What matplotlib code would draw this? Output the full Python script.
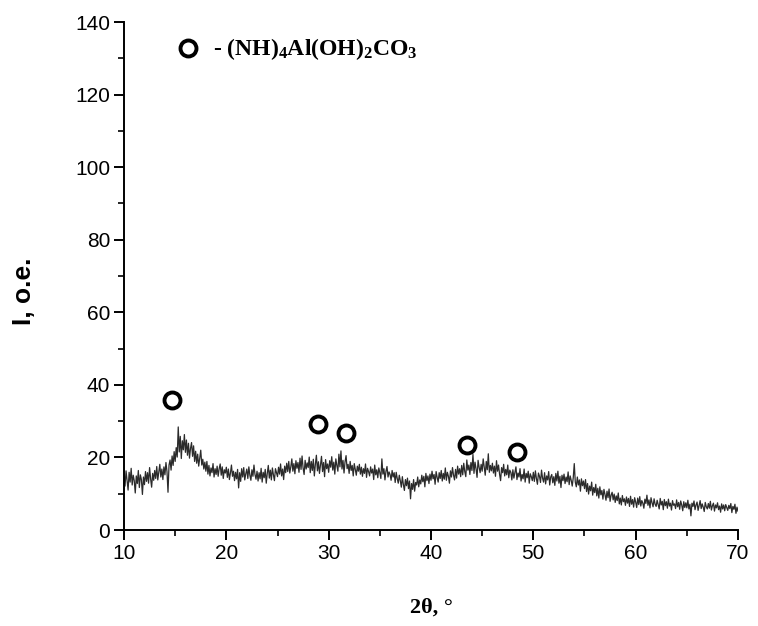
import numpy as np
import matplotlib
matplotlib.use('agg')
import matplotlib.pyplot as plt
from matplotlib.ticker import MultipleLocator

# diffractogram, intensity every 0.1 deg from 10 to 70 deg 2theta
intensity = [
    14.8, 12.1, 16.3, 13.5, 11.0, 15.9, 13.2, 17.0, 12.4, 15.1,
    13.6, 10.2, 14.9, 12.8, 16.4, 11.7, 15.2, 13.9, 9.8, 14.6,
    12.5, 16.1, 13.4, 15.8, 12.9, 17.2, 14.1, 11.8, 15.6, 13.7,
    16.4, 14.2, 17.5, 13.8, 15.9, 18.1, 14.6, 16.8, 13.9, 17.4,
    15.2, 18.6, 16.1, 10.4, 17.9, 19.3, 16.5, 20.4, 17.8, 21.6,
    18.9, 22.7, 20.1, 28.4, 21.5, 25.8, 19.7, 24.6, 22.1, 26.3,
    21.4, 24.8, 20.6, 23.9, 19.8, 22.5, 24.1, 20.3, 23.2, 18.9,
    21.7, 18.4, 20.9, 17.6, 19.8, 22.0, 17.9, 19.5, 16.8, 18.7,
    16.2, 18.9, 15.4, 17.8, 14.9, 17.1, 15.8, 18.3, 14.6, 16.9,
    15.3, 17.6, 14.8, 16.9, 18.2, 15.1, 17.4, 14.2, 16.6, 15.7,
    17.3, 14.5, 16.8, 13.9, 15.7, 17.9, 14.8, 16.2, 13.6, 15.9,
    14.1, 16.7, 11.6, 15.8, 13.4, 16.9, 14.6, 17.2, 13.8, 15.5,
    16.8, 14.2, 17.4, 15.1, 13.7, 16.6, 14.8, 17.9, 15.3, 14.0,
    16.2, 13.5, 15.8, 14.1, 17.0, 13.2, 15.9, 14.4, 16.7, 12.9,
    15.6, 17.8, 14.3, 16.5, 13.8, 17.1, 15.2, 13.6, 16.9, 15.8,
    14.7, 17.3, 15.4, 18.2, 14.9, 16.8, 13.9, 17.6, 15.8, 18.4,
    16.1, 18.9, 15.7, 17.4, 19.6, 16.2, 18.3, 15.5, 19.1, 17.0,
    18.6, 15.9, 19.8, 16.7, 20.4, 17.1, 15.3, 19.2, 16.8, 18.5,
    17.2, 20.1, 15.8, 18.9, 16.4, 19.5, 14.9, 18.1, 20.6, 16.3,
    18.8, 15.6, 17.9, 20.3, 16.1, 18.6, 14.7, 19.4, 16.9, 18.2,
    15.9, 19.1, 17.3, 20.2, 16.5, 18.7, 15.4, 19.6, 17.8, 16.2,
    20.9, 17.4, 21.8, 16.8, 19.2, 15.7, 18.8, 20.5, 16.9, 18.1,
    15.6, 18.9, 16.4, 17.8, 14.9, 18.3, 16.7, 15.1, 17.6, 16.2,
    18.1, 15.4, 17.3, 14.8, 16.9, 15.6, 18.2, 14.5, 17.0, 16.1,
    14.9, 17.4, 15.7, 16.8, 13.9, 17.9, 15.2, 16.6, 14.4, 17.1,
    15.8, 14.2, 19.6, 15.4, 16.9, 13.8, 16.2, 17.5, 14.6, 16.0,
    15.3, 13.7, 16.4, 14.6, 15.8, 13.1, 15.9, 14.2, 12.9, 15.1,
    13.6, 11.8, 14.7, 12.5, 10.9, 13.9, 12.2, 14.3, 11.4, 13.5,
    8.6, 12.8, 11.2, 13.9, 10.7, 13.1, 12.4, 14.6, 11.9, 13.8,
    12.7, 15.1, 13.3, 14.8, 11.9, 15.6, 13.6, 14.9, 12.8, 15.4,
    13.7, 16.2, 14.1, 15.3, 12.6, 16.1, 14.5, 13.2, 15.8, 14.2,
    16.4, 13.5, 15.6, 14.0, 17.1, 13.7, 15.9, 14.8, 12.9, 16.3,
    14.6, 17.2, 15.1, 13.8, 16.7, 14.3, 17.6, 15.4, 16.9, 14.7,
    17.8, 15.2, 18.4, 16.1, 14.7, 19.3, 16.5, 17.9, 15.3, 18.6,
    16.4, 20.8, 15.6, 18.7, 16.9, 14.5, 19.2, 17.3, 15.8, 18.1,
    16.2, 19.6, 17.4, 15.1, 18.9, 16.6, 21.0, 15.9, 17.8, 16.3,
    18.4, 15.7, 17.6, 14.8, 19.1, 16.2, 17.9, 15.4, 13.6, 17.2,
    15.8, 18.1, 14.9, 16.7, 15.2, 17.9, 14.4, 16.5, 15.9, 13.8,
    16.6, 14.3, 15.8, 17.4, 13.9, 15.7, 14.6, 16.9, 13.5, 15.3,
    14.1, 16.8, 13.2, 15.6, 14.4, 16.2, 12.9, 15.5, 14.7, 13.6,
    15.9, 13.4, 16.3, 14.2, 12.6, 15.7, 14.8, 13.1, 16.5, 14.3,
    13.2, 15.8, 12.7, 14.9, 13.8, 16.1, 12.4, 14.6, 15.3, 13.0,
    14.7, 12.3, 15.6, 13.5, 16.2, 12.9, 14.8, 11.7, 15.1, 13.6,
    15.4, 12.8, 14.6, 13.3, 16.0, 12.5, 14.9, 13.7, 12.1, 14.4,
    18.3, 13.2, 11.9, 14.6, 12.4, 13.8, 10.7, 14.1, 12.2, 13.5,
    11.4, 13.9, 10.6, 12.8, 9.9, 12.1, 10.8, 13.2, 9.6, 11.7,
    10.3, 12.6, 9.4, 11.5, 8.8, 11.9, 9.7, 10.9, 8.5, 11.2,
    9.8, 8.2, 10.7, 8.9, 11.3, 7.9, 9.6, 10.4, 8.3, 9.9,
    7.6, 9.4, 8.1, 10.2, 7.2, 8.8, 6.9, 9.5, 7.8, 8.6,
    6.8, 9.1, 7.4, 8.7, 6.5, 9.3, 7.1, 8.4, 6.3, 8.9,
    7.7, 6.2, 8.8, 7.0, 9.2, 6.6, 8.1, 7.4, 6.0, 8.5,
    7.3, 9.6, 6.8, 8.3, 6.1, 8.9, 7.5, 6.4, 8.6, 7.1,
    6.5, 8.2, 7.0, 5.8, 8.7, 6.9, 7.9, 5.6, 8.4, 6.7,
    7.8, 6.0, 8.5, 6.6, 7.4, 5.5, 8.1, 6.8, 7.2, 5.9,
    8.3, 6.4, 7.6, 5.7, 8.0, 6.9, 5.3, 7.8, 6.2, 7.5,
    6.1, 8.2, 5.8, 7.1, 3.9, 7.4, 6.5, 8.0, 5.6, 6.9,
    7.7, 5.4, 6.8, 8.1, 5.9, 7.2, 6.3, 5.1, 7.6, 6.4,
    5.8, 7.3, 6.0, 7.9, 5.5, 6.7, 7.4, 5.2, 6.9, 6.1,
    7.5, 5.6, 6.6, 4.9, 7.2, 5.8, 6.9, 5.3, 7.0, 6.2,
    5.4, 6.8, 5.9, 7.3, 4.8, 6.5, 5.7, 7.1, 4.6, 6.3,
    5.2,
]
two_theta = np.linspace(10, 70, len(intensity))

# reflections of ammonium aluminium carbonate hydroxide
peak_2theta = [14.7, 29.0, 31.7, 43.5, 48.4]
peak_mark = [35.8, 29.2, 26.7, 23.4, 21.5]

plt.rcParams['font.family'] = ['Liberation Sans', 'DejaVu Sans']
plt.rcParams['mathtext.fontset'] = 'custom'
plt.rcParams['mathtext.rm'] = 'Liberation Serif:bold'
plt.rcParams['mathtext.default'] = 'rm'

fig = plt.figure(figsize=(7.58, 6.26), dpi=100)
ax = fig.add_axes([124 / 758, 96 / 626, 614 / 758, 508 / 626])

ax.plot(two_theta, intensity, color='#2b2b2b', lw=0.9)
ax.plot(peak_2theta, peak_mark, 'o', ms=11.5, mfc='none', mec='black', mew=2.8)

# key for the marker
ax.plot([0.104], [0.949], 'o', ms=11.5, mfc='none', mec='black', mew=2.8,
        transform=ax.transAxes, clip_on=False)
ax.text(0.145, 0.947, '- (NH)$_4$Al(OH)$_2$CO$_3$', transform=ax.transAxes,
        family='Liberation Serif', weight='bold', fontsize=17, va='center')

ax.set_xlim(10, 70)
ax.set_ylim(0, 140)
ax.xaxis.set_major_locator(MultipleLocator(10))
ax.xaxis.set_minor_locator(MultipleLocator(5))
ax.yaxis.set_major_locator(MultipleLocator(20))
ax.yaxis.set_minor_locator(MultipleLocator(10))

for side in ['top', 'right']:
    ax.spines[side].set_visible(False)
for side in ['left', 'bottom']:
    ax.spines[side].set_linewidth(1.4)

ax.tick_params(which='major', direction='out', length=7, width=1.4, labelsize=15, pad=3)
ax.tick_params(which='minor', direction='out', length=4, width=1.2)

ax.set_xlabel('2θ, °', family='Liberation Serif', weight='bold', fontsize=16)
ax.set_ylabel('I, o.e.', weight='bold', fontsize=19)
ax.xaxis.set_label_coords(0.5, -0.134)
ax.yaxis.set_label_coords(-0.143, 0.469)

fig.savefig('out.png', dpi=100)
